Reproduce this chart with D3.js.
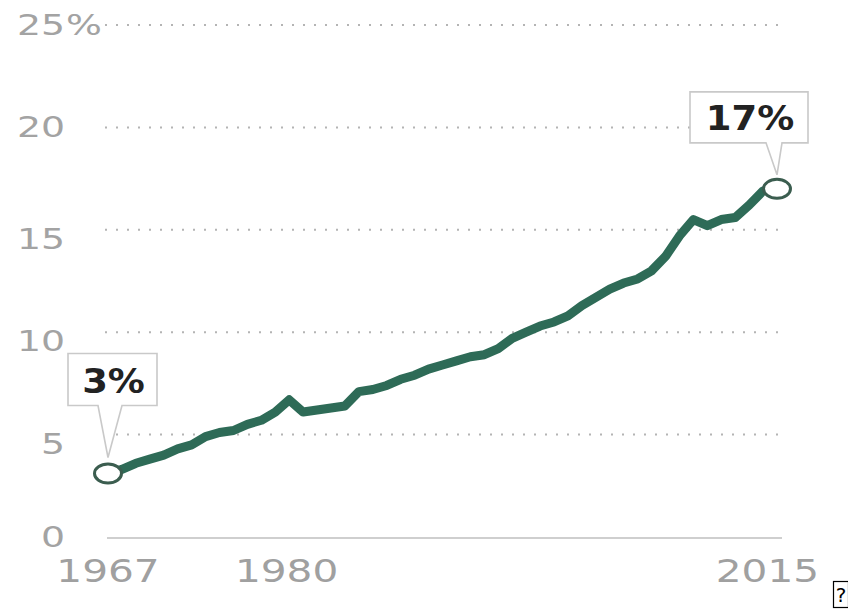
<!DOCTYPE html>
<html>
<head>
<meta charset="utf-8">
<script src="https://cdn.jsdelivr.net/npm/d3@7"></script>
<style>
  html, body { margin: 0; padding: 0; background: #fff; }
  svg { display: block; }
</style>
</head>
<body>
<script>
// Share of newlyweds, 1967–2015 (percent)
const years = [1967,1968,1969,1970,1971,1972,1973,1974,1975,1976,1977,1978,1979,1980,
  1981,1982,1983,1984,1985,1986,1987,1988,1989,1990,1991,1992,1993,1994,1995,1996,
  1997,1998,1999,2000,2001,2002,2003,2004,2005,2006,2007,2008,2009,2010,2011,2012,
  2013,2014,2015];
const shares = [3.1,3.3,3.6,3.8,4.0,4.3,4.5,4.9,5.1,5.2,5.5,5.7,6.1,6.7,
  6.1,6.2,6.3,6.4,7.1,7.2,7.4,7.7,7.9,8.2,8.4,8.6,8.8,8.9,9.2,9.7,
  10.0,10.3,10.5,10.8,11.3,11.7,12.1,12.4,12.6,13.0,13.7,14.7,15.5,15.2,15.5,15.6,
  16.2,16.9,17.0];
const yTicks = [0, 5, 10, 15, 20, 25];
const xTickYears = [1967, 1980, 2015];
const calloutYears = [1967, 2015];

const W = 848, H = 609;
const svg = d3.select("body").append("svg").attr("width", W).attr("height", H);
svg.append("rect").attr("width", W).attr("height", H).attr("fill", "#fff");

const x = d3.scaleLinear().domain([1967, 2015]).range([108, 777]);
const y = d3.scaleLinear().domain([0, 25]).range([537, 25]);

const data = years.map((yr, i) => ({ year: yr, value: shares[i] }));

// dotted gridlines
svg.append("g").selectAll("line")
  .data(yTicks.filter(t => t > 0))
  .join("line")
  .attr("x1", 105).attr("x2", 783)
  .attr("y1", d => y(d)).attr("y2", d => y(d))
  .attr("stroke", "#b4b4b4").attr("stroke-width", 2)
  .attr("stroke-dasharray", "2,9");

// baseline
svg.append("line")
  .attr("x1", 107).attr("x2", 782)
  .attr("y1", y(0) + 1).attr("y2", y(0) + 1)
  .attr("stroke", "#cfcfcf").attr("stroke-width", 2);

// y-axis labels (wide face); the middle ticks sit just under their rule
const labelDrop = t => (t >= 5 && t <= 15) ? 9 : 0;
const yl = svg.append("g")
  .attr("font-family", "DejaVu Sans, sans-serif")
  .attr("font-size", 28).attr("fill", "#a3a3a3");
yl.selectAll("text").data(yTicks).join("text")
  .attr("text-anchor", "end")
  .attr("transform", d => `translate(65,${y(d) + 10 + labelDrop(d)}) scale(1.35,1)`)
  .text(d => d);
yl.append("text")
  .attr("transform", `translate(66,${y(25) + 10}) scale(1.35,1)`)
  .text("%");

// x-axis labels
svg.append("g")
  .attr("font-family", "DejaVu Sans, sans-serif")
  .attr("font-size", 32).attr("fill", "#a0a0a0")
  .selectAll("text").data(xTickYears).join("text")
  .attr("text-anchor", "middle")
  .attr("transform", d => `translate(${x(d) - (d - 1967) * 0.2},582) scale(1.27,1)`)
  .text(d => d);

// trend line
svg.append("path")
  .datum(data)
  .attr("fill", "none")
  .attr("stroke", "#2e6b57")
  .attr("stroke-width", 9)
  .attr("stroke-linejoin", "round")
  .attr("stroke-linecap", "round")
  .attr("d", d3.line().x(d => x(d.year)).y(d => y(d.value)));

// callouts at first and last points
const fmt = v => Math.round(v) + "%";
const calloutSpec = {
  1967: { left: -40, right: 49, top: -120, bottom: -68, b1: -10, b2: 14, tip: -16 },
  2015: { left: -87, right: 31, top: -97, bottom: -46, b1: -11, b2: 5, tip: -14 }
};
calloutYears.forEach(yr => {
  const d = data.find(p => p.year === yr);
  const px = x(d.year), py = y(d.value);
  const s = calloutSpec[yr];
  const L = px + s.left, R = px + s.right, T = py + s.top, B = py + s.bottom;
  const path = `M${L},${T}H${R}V${B}H${px + s.b2}L${px},${py + s.tip}L${px + s.b1},${B}H${L}Z`;
  svg.append("path").attr("d", path)
    .attr("fill", "#fff").attr("stroke", "#c9c9c9").attr("stroke-width", 1.6)
    .attr("stroke-linejoin", "miter");
  svg.append("text")
    .attr("font-family", "DejaVu Sans, sans-serif")
    .attr("font-weight", "bold").attr("font-size", 33).attr("fill", "#222")
    .attr("text-anchor", "middle")
    .attr("transform", `translate(${(L + R) / 2 + 1},${B - 13}) scale(1.12,1)`)
    .text(fmt(d.value));
  svg.append("ellipse")
    .attr("cx", px).attr("cy", py)
    .attr("rx", 13.5).attr("ry", 9.5)
    .attr("fill", "#fff").attr("stroke", "#3b5d4f").attr("stroke-width", 3);
});

// stray glyph box in the corner
svg.append("rect").attr("x", 833.5).attr("y", 581.5).attr("width", 15).attr("height", 26)
  .attr("fill", "none").attr("stroke", "#000").attr("stroke-width", 1.2);
svg.append("text").attr("x", 841).attr("y", 602)
  .attr("text-anchor", "middle")
  .attr("font-family", "DejaVu Sans, sans-serif").attr("font-size", 20).attr("fill", "#000")
  .text("?");
</script>
</body>
</html>
